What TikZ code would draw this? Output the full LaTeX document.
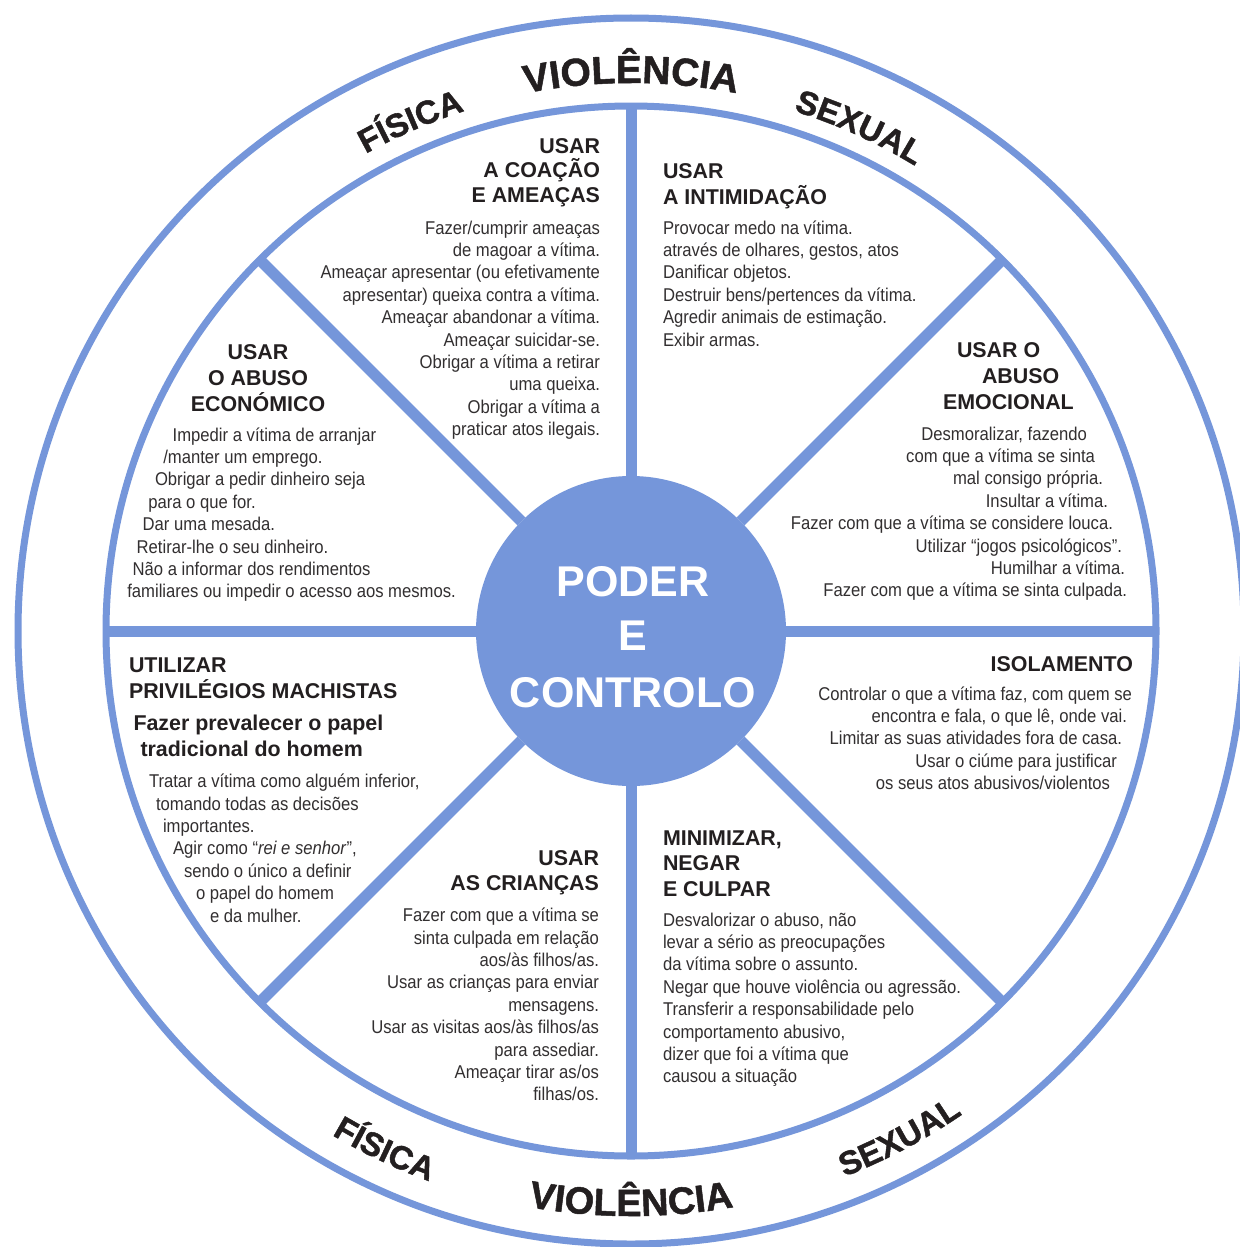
\documentclass[tikz,border=0pt]{standalone}
\usepackage{fontspec}
\setmainfont{Liberation Sans}
\newfontfamily\bodyfont[FakeStretch=0.9]{Liberation Sans}
\newfontfamily\ringfont[FakeBold=1.3]{Liberation Sans Bold}
\usetikzlibrary{calc,decorations.text}
\definecolor{wheel}{RGB}{117,150,218}
\definecolor{ink}{RGB}{35,31,32}
\definecolor{ink2}{RGB}{50,47,48}
\begin{document}
\begin{tikzpicture}[x=1pt,y=1pt,
  body/.style={inner sep=0pt, outer sep=0pt, font=\bodyfont\fontsize{18.5}{22.4}\selectfont, text=ink2},
  head/.style={inner sep=0pt, outer sep=0pt, font=\bfseries\fontsize{21.4}{25}\selectfont, text=ink},
  hubtxt/.style={inner sep=0pt, outer sep=0pt, font=\bfseries\fontsize{43}{43}\selectfont, text=white, anchor=base},
  spoke/.style={draw=wheel, line width=11pt},
  ringlbl/.style={decorate, decoration={text along path, text align=center, text color=ink, text={#1}}},
]
\path[use as bounding box, fill=white] (0,0) rectangle (1239,-1247);
\coordinate (C) at (631,-631);
\node[circle, draw=wheel, line width=7pt, minimum size=1226pt, inner sep=0pt, outer sep=0pt] (outer) at (C) {};
\node[circle, draw=wheel, line width=7pt, minimum size=1050pt, inner sep=0pt, outer sep=0pt] (rim) at (C) {};
\node[circle, fill=wheel, minimum size=310pt, inner sep=0pt, outer sep=0pt] (hub) at (C) {};
\foreach \a in {0,45,...,315} \draw[spoke] (hub.\a) -- (rim.\a);

% ring labels
\path[ringlbl={|\ringfont\fontsize{39}{39}\selectfont|VIOLÊNCIA}] ($(C)+(110:548)$) arc[start angle=110, end angle=70, radius=548];
\path[ringlbl={|\ringfont\fontsize{33}{33}\selectfont|FÍSICA}] ($(C)+(127.4:546)$) arc[start angle=127.4, end angle=99.4, radius=546];
\path[ringlbl={|\ringfont\fontsize{33}{33}\selectfont|SEXUAL}] ($(C)+(79.6:545)$) arc[start angle=79.6, end angle=51.6, radius=545];
\path[ringlbl={|\ringfont\fontsize{33}{33}\selectfont|FÍSICA}] ($(C)+(230.6:586)$) arc[start angle=230.6, end angle=258.6, radius=586];
\path[ringlbl={|\ringfont\fontsize{38}{38}\selectfont|VIOLÊNCIA}] ($(C)+(254:585)$) arc[start angle=254, end angle=286, radius=585];
\path[ringlbl={|\ringfont\fontsize{33}{33}\selectfont|SEXUAL}] ($(C)+(283.9:586)$) arc[start angle=283.9, end angle=311.9, radius=586];

% hub text
\node[hubtxt] (hubA) at (633,-596) {PODER};
\node[hubtxt] (hubB) at (633,-650) {E};
\node[hubtxt] (hubC) at (633,-707) {CONTROLO};

% S1 coercion
\node[head, anchor=base east] (s1h1) at (600,-153) {USAR};
\node[head, anchor=base east] (s1h2) at (600,-177.5) {A COAÇÃO};
\node[head, anchor=base east] (s1h3) at (600,-202) {E AMEAÇAS};
\foreach \t [count=\i] in {{Fazer/cumprir ameaças},{de magoar a vítima.},{Ameaçar apresentar (ou efetivamente},{apresentar) queixa contra a vítima.},{Ameaçar abandonar a vítima.},{Ameaçar suicidar-se.},{Obrigar a vítima a retirar},{uma queixa.},{Obrigar a vítima a},{praticar atos ilegais.}}
  \node[body, anchor=base east] (s1b\i) at (600,{-234-22.4*(\i-1)}) {\t};

% S2 intimidation
\node[head, anchor=base west] (s2h1) at (663,-178.5) {USAR};
\node[head, anchor=base west] (s2h2) at (663,-204) {A INTIMIDAÇÃO};
\foreach \t [count=\i] in {{Provocar medo na vítima.},{através de olhares, gestos, atos},{Danificar objetos.},{Destruir bens/pertences da vítima.},{Agredir animais de estimação.},{Exibir armas.}}
  \node[body, anchor=base west] (s2b\i) at (663,{-234-22.4*(\i-1)}) {\t};

% S3 emotional
\node[head, anchor=base west] (s3h1) at (957,-357.5) {USAR O};
\node[head, anchor=base west] (s3h2) at (982,-383.5) {ABUSO};
\node[head, anchor=base west] (s3h3) at (943,-409) {EMOCIONAL};
\node[body, anchor=base east] (s3b1) at (1087,-440) {Desmoralizar, fazendo};
\node[body, anchor=base east] (s3b2) at (1095,-462.4) {com que a vítima se sinta};
\node[body, anchor=base east] (s3b3) at (1103,-484.8) {mal consigo própria.};
\node[body, anchor=base east] (s3b4) at (1108,-507.2) {Insultar a vítima.};
\node[body, anchor=base east] (s3b5) at (1113,-529.6) {Fazer com que a vítima se considere louca.};
\node[body, anchor=base east] (s3b6) at (1122,-552) {Utilizar “jogos psicológicos”.};
\node[body, anchor=base east] (s3b7) at (1125,-574.4) {Humilhar a vítima.};
\node[body, anchor=base east] (s3b8) at (1127,-596.8) {Fazer com que a vítima se sinta culpada.};

% S4 isolation
\node[head, anchor=base east] (s4h1) at (1133,-671) {ISOLAMENTO};
\node[body, anchor=base east] (s4b1) at (1132,-700) {Controlar o que a vítima faz, com quem se};
\node[body, anchor=base east] (s4b2) at (1127,-722.4) {encontra e fala, o que lê, onde vai.};
\node[body, anchor=base east] (s4b3) at (1122,-744.8) {Limitar as suas atividades fora de casa.};
\node[body, anchor=base east] (s4b4) at (1117,-767.2) {Usar o ciúme para justificar};
\node[body, anchor=base east] (s4b5) at (1110,-789.6) {os seus atos abusivos/violentos};

% S5 minimize
\node[head, anchor=base west] (s5h1) at (663,-845) {MINIMIZAR,};
\node[head, anchor=base west] (s5h2) at (663,-870.5) {NEGAR};
\node[head, anchor=base west] (s5h3) at (663,-896) {E CULPAR};
\foreach \t [count=\i] in {{Desvalorizar o abuso, não},{levar a sério as preocupações},{da vítima sobre o assunto.},{Negar que houve violência ou agressão.},{Transferir a responsabilidade pelo},{comportamento abusivo,},{dizer que foi a vítima que},{causou a situação}}
  \node[body, anchor=base west] (s5b\i) at (663,{-926-22.4*(\i-1)}) {\t};

% S6 children
\node[head, anchor=base east] (s6h1) at (599,-865.7) {USAR};
\node[head, anchor=base east] (s6h2) at (599,-890) {AS CRIANÇAS};
\foreach \t [count=\i] in {{Fazer com que a vítima se},{sinta culpada em relação},{aos/às filhos/as.},{Usar as crianças para enviar},{mensagens.},{Usar as visitas aos/às filhos/as},{para assediar.},{Ameaçar tirar as/os},{filhas/os.}}
  \node[body, anchor=base east] (s6b\i) at (599,{-921.7-22.4*(\i-1)}) {\t};

% S7 privileges
\node[head, anchor=base west] (s7h1) at (129,-672.3) {UTILIZAR};
\node[head, anchor=base west] (s7h2) at (129,-698.3) {PRIVILÉGIOS MACHISTAS};
\node[head, anchor=base west] (s7s1) at (133.5,-730.7) {Fazer prevalecer o papel};
\node[head, anchor=base west] (s7s2) at (140.5,-756.5) {tradicional do homem};
\node[body, anchor=base west] (s7b1) at (149,-787.5) {Tratar a vítima como alguém inferior,};
\node[body, anchor=base west] (s7b2) at (156,-810) {tomando todas as decisões};
\node[body, anchor=base west] (s7b3) at (163,-832.3) {importantes.};
\node[body, anchor=base west] (s7b4) at (173,-854.7) {Agir como “\textit{rei e senhor}”,};
\node[body, anchor=base west] (s7b5) at (184,-877) {sendo o único a definir};
\node[body, anchor=base west] (s7b6) at (196,-899.5) {o papel do homem};
\node[body, anchor=base west] (s7b7) at (210,-922) {e da mulher.};

% S8 economic
\node[head, anchor=base] (s8h1) at (258,-359) {USAR};
\node[head, anchor=base] (s8h2) at (258,-385) {O ABUSO};
\node[head, anchor=base] (s8h3) at (258,-411) {ECONÓMICO};
\node[body, anchor=base west] (s8b1) at (172.7,-441) {Impedir a vítima de arranjar};
\node[body, anchor=base west] (s8b2) at (163.3,-463.4) {/manter um emprego.};
\node[body, anchor=base west] (s8b3) at (155,-485.8) {Obrigar a pedir dinheiro seja};
\node[body, anchor=base west] (s8b4) at (148.3,-508.2) {para o que for.};
\node[body, anchor=base west] (s8b5) at (142.7,-530.6) {Dar uma mesada.};
\node[body, anchor=base west] (s8b6) at (136.7,-553) {Retirar-lhe o seu dinheiro.};
\node[body, anchor=base west] (s8b7) at (132.7,-575.4) {Não a informar dos rendimentos};
\node[body, anchor=base west] (s8b8) at (127.3,-597.8) {familiares ou impedir o acesso aos mesmos.};
\end{tikzpicture}
\end{document}
